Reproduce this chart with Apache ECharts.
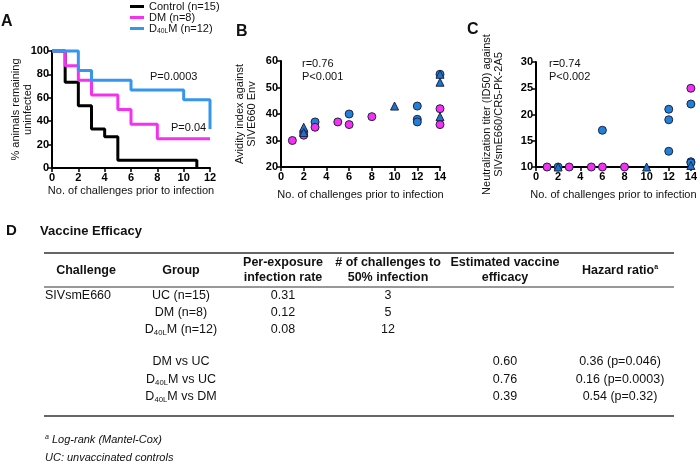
<!DOCTYPE html>
<html>
<head>
<meta charset="utf-8">
<script src="https://cdn.jsdelivr.net/npm/echarts@6/dist/echarts.min.js"></script>
<style>
html, body { margin: 0; padding: 0; background: #fff; }
#fig { width: 700px; height: 468px; }
</style>
</head>
<body>
<div id="fig"></div>
<script>
// panel A - Kaplan-Meier, % uninfected after n challenges
const kmControl = [[0, 100], [1, 73.3], [2, 53.3], [3, 33.3], [4, 26.7], [5, 6.7], [11, 0]];
const kmDM = [[0, 100], [1, 87.5], [2, 75], [3, 62.5], [5, 50], [6, 37.5], [8, 25], [12, 25]];
const kmD40 = [[0, 100], [2, 83.3], [3, 75], [6, 66.7], [10, 58.3], [12, 33.3]];
const kmNames = ['Control (n=15)', 'DM (n=8)', 'D40LM (n=12)'];

// panel B - avidity index
const avidDM = [[1, 30], [2, 32], [3, 35], [5, 37], [6, 36], [8, 39], [14, 42], [14, 36]];
const avidD40Circ = [[2, 33], [3, 37], [6, 40], [12, 43], [12, 38], [12, 37], [14, 55]];
const avidD40Tri = [[2, 35], [2, 33], [10, 43], [14, 55], [14, 52], [14, 39]];

// panel C - neutralization titer
const neutDM = [[1, 10], [3, 10], [5, 10], [6, 10], [8, 10], [14, 25]];
const neutD40Circ = [[2, 10], [6, 17], [12, 21], [12, 19], [12, 13], [14, 22], [14, 11], [14, 10.8]];
const neutD40Tri = [[2, 10], [10, 10], [14, 10.3]];

// panel D - table
const headCols = ['Challenge', 'Group', 'Per-exposure\ninfection rate', '# of challenges to\n50% infection', 'Estimated vaccine\nefficacy', 'Hazard ratio'];
const groupCol = ['UC (n=15)', 'DM (n=8)', 'D40LM (n=12)'];
const rateCol = ['0.31', '0.12', '0.08'];
const half50Col = ['3', '5', '12'];
const compCol = ['DM vs UC', 'D40LM vs UC', 'D40LM vs DM'];
const effCol = ['0.60', '0.76', '0.39'];
const hazardCol = ['0.36 (p=0.046)', '0.16 (p=0.0003)', '0.54 (p=0.32)'];

const FONT = '"Liberation Sans", Arial, sans-serif';
const BLUE_LINE = '#3596ee';
const MAGENTA = '#f531f0';
const BLUE_DOT = '#2380d8';
const EDGE = '#1c2444';

const myChart = echarts.init(document.getElementById('fig'), null, { renderer: 'canvas' });

// D40LM with subscript
function sub40(s) {
  if (s.indexOf('D40L') < 0) return '{n|' + s + '}';
  const parts = s.split('D40L');
  return '{n|' + parts[0] + 'D}{s|40L}{n|' + parts[1] + '}';
}
function richFor(size, weight) {
  return {
    n: { fontSize: size, fontFamily: FONT, fontWeight: weight || 'normal', color: '#111' },
    s: { fontSize: size * 0.62, fontFamily: FONT, fontWeight: weight || 'normal', color: '#111', padding: [size * 0.45, 0, 0, 0] }
  };
}

function xAxisOf(grid, max, gap) {
  return {
    gridIndex: grid, type: 'value', min: 0, max: max, interval: 2,
    name: 'No. of challenges prior to infection', nameLocation: 'middle', nameGap: gap,
    nameMoveOverlap: false,
    nameTextStyle: { fontSize: 11, fontFamily: FONT, color: '#111' },
    axisLine: { onZero: false, lineStyle: { color: '#000', width: 2 } },
    axisTick: { length: 4, lineStyle: { width: 1.5, color: '#000' } },
    axisLabel: { fontSize: 11, fontWeight: 'bold', fontFamily: FONT, color: '#000', margin: 4 },
    splitLine: { show: false }
  };
}
function yAxisOf(grid, min, max, interval, name, gap) {
  return {
    gridIndex: grid, type: 'value', min: min, max: max, interval: interval,
    name: name, nameLocation: 'middle', nameGap: gap,
    nameMoveOverlap: false,
    nameTextStyle: { fontSize: 11, fontFamily: FONT, color: '#111', lineHeight: 12 },
    axisLine: { onZero: false, lineStyle: { color: '#000', width: 2 } },
    axisTick: { length: 4, lineStyle: { width: 1.5, color: '#000' } },
    axisLabel: { fontSize: 11, fontWeight: 'bold', fontFamily: FONT, color: '#000', margin: 3 },
    splitLine: { show: false }
  };
}

function kmLine(name, data, color) {
  return {
    name: name, type: 'line', step: 'end', data: data, xAxisIndex: 0, yAxisIndex: 0,
    showSymbol: false, clip: false, color: color,
    lineStyle: { width: 3, color: color }
  };
}
function dots(data, grid, symbol, color) {
  return {
    type: 'scatter', data: data, xAxisIndex: grid, yAxisIndex: grid,
    symbol: symbol, symbolSize: 8, clip: false,
    itemStyle: { color: color, borderColor: EDGE, borderWidth: 1, opacity: 1 }
  };
}

function txt(x, y, text, size, opts) {
  opts = opts || {};
  return {
    type: 'text', x: x, y: y, silent: true,
    style: {
      text: text, fill: '#111', fontSize: size, fontFamily: FONT,
      fontWeight: opts.weight || 'normal', fontStyle: opts.style || 'normal',
      align: opts.align || 'left', textAlign: opts.align || 'left',
      verticalAlign: 'middle', textVerticalAlign: 'middle',
      lineHeight: opts.lineHeight || size + 3,
      rich: opts.rich
    }
  };
}
function rule(y, w) {
  return { type: 'line', silent: true, shape: { x1: 44, y1: y, x2: 674, y2: y }, style: { stroke: '#333', lineWidth: w } };
}

// table graphics built from the arrays
const tableEls = [];
const colX = [86, 181, 283, 388, 505, 620];
headCols.forEach(function (h, i) {
  if (i === 5) {
    tableEls.push(txt(colX[i], 270.5, '{b|' + h + '}{a|a}', 12.5, {
      align: 'center',
      rich: { b: { fontSize: 12.5, fontWeight: 'bold', fontFamily: FONT }, a: { fontSize: 7, fontWeight: 'bold', fontFamily: FONT, padding: [0, 0, 7, 0] } }
    }));
  } else {
    tableEls.push(txt(colX[i], 270.5, h, 12.5, { align: 'center', weight: 'bold', lineHeight: 15 }));
  }
});
tableEls.push(txt(45, 296, 'SIVsmE660', 12.5));
const rowY = [296, 313, 330];
const compY = [362, 380, 397];
groupCol.forEach(function (g, i) {
  tableEls.push(txt(colX[1], rowY[i], sub40(g), 12.5, { align: 'center', rich: richFor(12.5) }));
  tableEls.push(txt(colX[2], rowY[i], rateCol[i], 12.5, { align: 'center' }));
  tableEls.push(txt(colX[3], rowY[i], half50Col[i], 12.5, { align: 'center' }));
});
compCol.forEach(function (c, i) {
  tableEls.push(txt(colX[1], compY[i], sub40(c), 12.5, { align: 'center', rich: richFor(12.5) }));
  tableEls.push(txt(colX[4], compY[i], effCol[i], 12.5, { align: 'center' }));
  tableEls.push(txt(colX[5], compY[i], hazardCol[i], 12.5, { align: 'center' }));
});
tableEls.push(rule(253, 1.5), rule(287, 1), rule(416, 1.5));
tableEls.push(txt(45, 440, '{a|a}{i| Log-rank (Mantel-Cox)}', 11, {
  rich: { a: { fontSize: 7, fontStyle: 'italic', fontFamily: FONT, padding: [0, 0, 5, 0] }, i: { fontSize: 11, fontStyle: 'italic', fontFamily: FONT } }
}));
tableEls.push(txt(45, 458, 'UC: unvaccinated controls', 11, { style: 'italic' }));

const option = {
  animation: false,
  backgroundColor: '#fff',
  grid: [
    { left: 52, top: 51, width: 158, height: 117 },
    { left: 281, top: 61, width: 159, height: 106 },
    { left: 536, top: 62, width: 157, height: 105 }
  ],
  legend: {
    data: kmNames, orient: 'vertical', left: 125, top: -4, itemGap: 0,
    itemWidth: 14, itemHeight: 3, icon: 'rect',
    formatter: sub40,
    textStyle: { fontSize: 11, fontFamily: FONT, color: '#111', rich: richFor(11) }
  },
  xAxis: [xAxisOf(0, 12, 17), xAxisOf(1, 14, 22), xAxisOf(2, 14, 22)],
  yAxis: [
    yAxisOf(0, 0, 100, 20, '% animals remaining\nuninfected', 18),
    yAxisOf(1, 20, 60, 10, 'Avidity index against\nSIVE660 Env', 23),
    yAxisOf(2, 10, 30, 5, 'Neutralization titer (ID50) against\nSIVsmE660/CR5-PK-2A5', 31)
  ],
  series: [
    kmLine(kmNames[0], kmControl, '#000'),
    kmLine(kmNames[1], kmDM, MAGENTA),
    kmLine(kmNames[2], kmD40, BLUE_LINE),
    dots(avidD40Circ, 1, 'circle', BLUE_DOT),
    dots(avidDM, 1, 'circle', MAGENTA),
    dots(avidD40Tri, 1, 'triangle', '#1f72cc'),
    dots(neutD40Circ, 2, 'circle', BLUE_DOT),
    dots(neutDM, 2, 'circle', MAGENTA),
    dots(neutD40Tri, 2, 'triangle', '#1f72cc')
  ],
  graphic: [
    txt(1, 22, 'A', 16, { weight: 'bold' }),
    txt(236, 32, 'B', 16, { weight: 'bold' }),
    txt(467, 30, 'C', 16, { weight: 'bold' }),
    txt(150, 77, 'P=0.0003', 11),
    txt(171, 128, 'P=0.04', 11),
    txt(302, 64, 'r=0.76', 11),
    txt(302, 77, 'P<0.001', 11),
    txt(549, 64, 'r=0.74', 11),
    txt(549, 77, 'P<0.002', 11),
    txt(6, 231, 'D', 15, { weight: 'bold' }),
    txt(40, 231, 'Vaccine Efficacy', 13, { weight: 'bold' })
  ].concat(tableEls)
};

myChart.setOption(option);
</script>
</body>
</html>
